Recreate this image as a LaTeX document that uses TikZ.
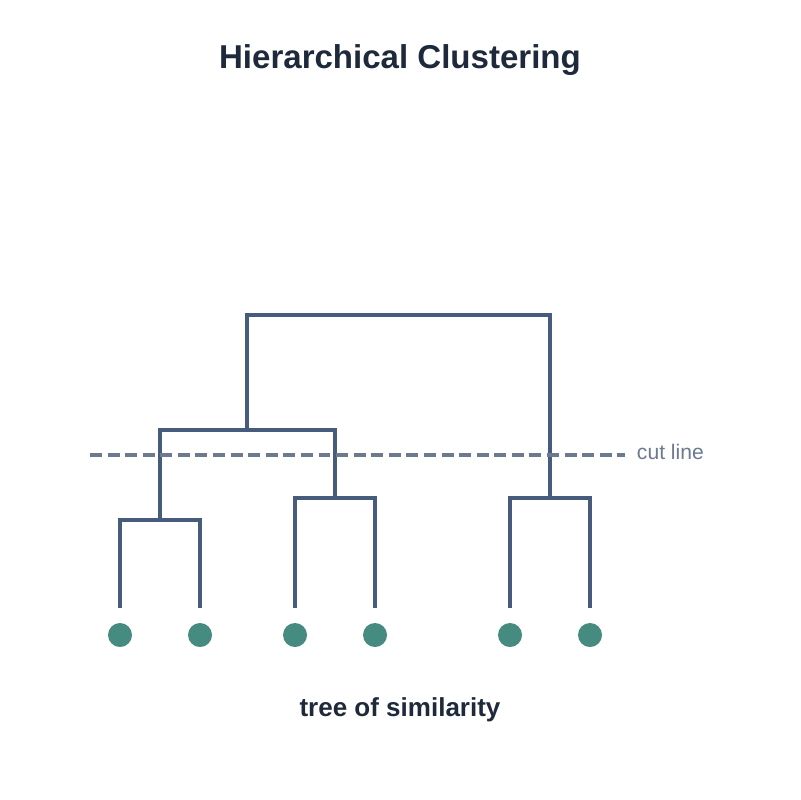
\documentclass[tikz,border=0pt]{standalone}
\usepackage{fontspec}
\setmainfont{Liberation Sans}
\definecolor{Edge}{HTML}{475B7D}
\definecolor{Leaf}{HTML}{458B7F}
\definecolor{Cut}{HTML}{6B7A8F}
\definecolor{Ink}{HTML}{1E293B}
\tikzset{
  link/.style={draw=Edge, line width=2.9pt},
  leaf/.style={circle, fill=Leaf, minimum size=0.6cm, inner sep=0pt},
}
\begin{document}
\begin{tikzpicture}[x=0.025cm, y=-0.025cm]
\useasboundingbox (0,0) rectangle (800,800);
\node[font=\fontsize{23.5}{28}\selectfont\bfseries, text=Ink] (title) at (400,60) {Hierarchical Clustering};
% leaves
\foreach \name/\x in {l1/120, l2/200, l3/295, l4/375, l5/510, l6/590}
  \node[leaf] (\name) at (\x,635) {};
\foreach \name/\x in {l1/120, l2/200, l3/295, l4/375, l5/510, l6/590}
  \coordinate (\name t) at (\x,608);
% junctions
\coordinate (a) at (160,520);
\coordinate (b) at (335,498);
\coordinate (c) at (550,498);
\coordinate (ab) at (247,430);
\draw[link] (l1t) |- (a) -| (l2t);
\draw[link] (l3t) |- (b) -| (l4t);
\draw[link] (l5t) |- (c) -| (l6t);
\draw[link] (a) -- (160,430) -- (335,430) -- (b);
\draw[link] (ab) -- (247,315) -- (550,315) -- (c);
% cut
\coordinate (cutL) at (90,455);
\coordinate (cutR) at (625,455);
\node[anchor=west, text=Cut, font=\fontsize{15}{18}\selectfont] (cut) at (632,452) {cut line};
\draw[Cut, line width=2.4pt, dash pattern=on 8.5pt off 4pt] (cutL) -- (cutR);
\node[font=\fontsize{18.5}{22}\selectfont\bfseries, text=Ink] (caption) at (400,710) {tree of similarity};
\end{tikzpicture}
\end{document}
